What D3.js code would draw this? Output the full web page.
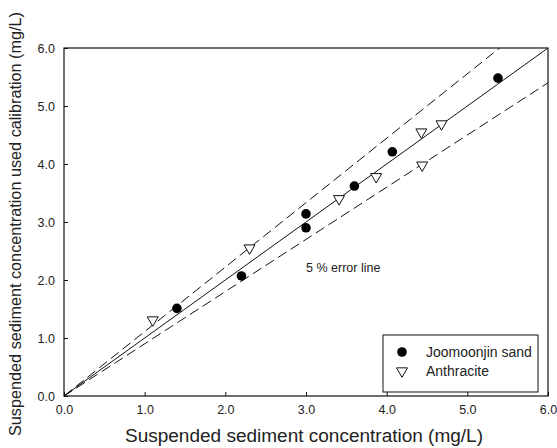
<!DOCTYPE html>
<html>
<head>
<meta charset="utf-8">
<script src="https://cdn.jsdelivr.net/npm/d3@7"></script>
<style>
  body { margin: 0; background: #fff; }
  text { font-family: "Liberation Sans", Arial, sans-serif; fill: #222; }
</style>
</head>
<body>
<div class="canva"></div>
<script>
// Joomoonjin sand (filled circles)
const sandX = [1.40, 2.20, 3.00, 3.00, 3.60, 4.07, 5.38];
const sandY = [1.51, 2.07, 3.14, 2.90, 3.62, 4.21, 5.48];
// Anthracite (open triangles)
const anthX = [1.10, 2.30, 3.41, 3.87, 4.43, 4.44, 4.68];
const anthY = [1.31, 2.55, 3.40, 3.78, 4.55, 3.98, 4.69];
const ticks = [0, 1, 2, 3, 4, 5, 6];
const errorFactor = [1 / 0.9, 0.9];

const width = 557, height = 448;
const margin = {top: 48, right: 9, bottom: 52, left: 64};

const svg = d3.select(".canva").append("svg")
    .attr("width", width)
    .attr("height", height);

const x = d3.scaleLinear().domain([0, 6]).range([margin.left, width - margin.right]);
const y = d3.scaleLinear().domain([0, 6]).range([height - margin.bottom, margin.top]);

// clip for lines
svg.append("clipPath").attr("id", "plot")
  .append("rect")
    .attr("x", x(0)).attr("y", y(6))
    .attr("width", x(6) - x(0)).attr("height", y(0) - y(6));

const line = d3.line().x(d => x(d[0])).y(d => y(d[1]));

// 1:1 line
svg.append("path")
    .attr("d", line([[0, 0], [6, 6]]))
    .attr("stroke", "#111").attr("fill", "none").attr("stroke-width", 1)
    .attr("clip-path", "url(#plot)");

// error lines
errorFactor.forEach(f => {
  svg.append("path")
      .attr("d", line([[0, 0], [6, 6 * f]]))
      .attr("stroke", "#111").attr("fill", "none").attr("stroke-width", 1)
      .attr("stroke-dasharray", "10,5")
      .attr("clip-path", "url(#plot)");
});

// axes
const xAxis = d3.axisBottom(x).tickValues(ticks).tickFormat(d3.format(".1f"))
    .tickSizeInner(-4).tickSizeOuter(0).tickPadding(9);
const yAxis = d3.axisLeft(y).tickValues(ticks).tickFormat(d3.format(".1f"))
    .tickSizeInner(-4).tickSizeOuter(0).tickPadding(9);

const gx = svg.append("g").attr("transform", `translate(0,${y(0)})`).call(xAxis);
const gy = svg.append("g").attr("transform", `translate(${x(0)},0)`).call(yAxis);
[gx, gy].forEach(g => {
  g.select(".domain").remove();
  g.selectAll("line").attr("stroke", "#111");
  g.selectAll("text").attr("font-size", 12.5).style("fill", "#222");
});

// frame
svg.append("rect")
    .attr("x", x(0)).attr("y", y(6))
    .attr("width", x(6) - x(0)).attr("height", y(0) - y(6))
    .attr("fill", "none").attr("stroke", "#111").attr("stroke-width", 1.2);

// points
const tri = d3.symbol().type(d3.symbolTriangle).size(52);

svg.selectAll(".anth")
  .data(anthX.map((d, i) => [d, anthY[i]]))
  .enter().append("path")
    .attr("class", "anth")
    .attr("d", tri)
    .attr("transform", d => `translate(${x(d[0])},${y(d[1])}) rotate(180)`)
    .attr("fill", "#fff").attr("stroke", "#111").attr("stroke-width", 1);

svg.selectAll(".sand")
  .data(sandX.map((d, i) => [d, sandY[i]]))
  .enter().append("circle")
    .attr("class", "sand")
    .attr("cx", d => x(d[0])).attr("cy", d => y(d[1]))
    .attr("r", 4.8).attr("fill", "#000");

// annotation
svg.append("text")
    .attr("x", x(3.0)).attr("y", y(2.13))
    .attr("font-size", 12.5)
    .text("5 % error line");

// legend
const lg = svg.append("g").attr("transform", "translate(383,335)");
lg.append("rect").attr("width", 155).attr("height", 57)
    .attr("fill", "#fff").attr("stroke", "#111").attr("stroke-width", 1);
lg.append("circle").attr("cx", 19).attr("cy", 17).attr("r", 4.8).attr("fill", "#000");
lg.append("path").attr("d", tri).attr("transform", "translate(19,36) rotate(180)")
    .attr("fill", "#fff").attr("stroke", "#111");
lg.append("text").attr("x", 43).attr("y", 22).attr("font-size", 14).text("Joomoonjin sand");
lg.append("text").attr("x", 43).attr("y", 41).attr("font-size", 14).text("Anthracite");

// axis titles
svg.append("text")
    .attr("x", (x(0) + x(6)) / 2 - 2).attr("y", 442)
    .attr("text-anchor", "middle").attr("font-size", 17.5)
    .attr("textLength", 358).attr("lengthAdjust", "spacingAndGlyphs")
    .text("Suspended sediment concentration (mg/L)");

svg.append("text")
    .attr("transform", `translate(21,224) rotate(-90)`)
    .attr("text-anchor", "middle").attr("font-size", 16)
    .attr("textLength", 424).attr("lengthAdjust", "spacingAndGlyphs")
    .text("Suspended sediment concentration used calibration (mg/L)");
</script>
</body>
</html>
